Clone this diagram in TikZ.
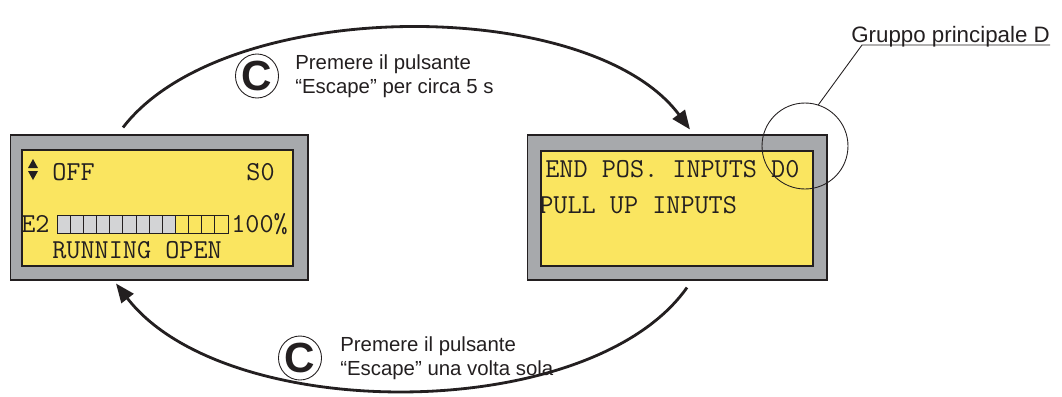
\documentclass[tikz,border=0pt]{standalone}
\usepackage{fontspec}
\setmainfont{Liberation Sans}
\usetikzlibrary{arrows.meta, positioning, calc, shapes.geometric}
\definecolor{LcdGray}{RGB}{167,169,172}
\definecolor{LcdYellow}{RGB}{250,229,96}
\definecolor{BarGray}{RGB}{211,212,214}
\definecolor{InkDark}{RGB}{35,31,32}

\begin{document}
\begin{tikzpicture}[
    x=0.02cm, y=-0.02cm,
    lcdframe/.style={draw=InkDark, line width=0.6pt, fill=LcdGray,
        minimum width=5.96cm, minimum height=2.9cm, inner sep=0pt},
    lcdscreen/.style={draw=InkDark, line width=0.9pt, fill=LcdYellow,
        inner sep=0pt},
    lcdtext/.style={font=\ttfamily\fontsize{15.6}{18}\selectfont,
        text=InkDark, inner sep=0pt, anchor=base west},
    note/.style={font=\fontsize{11.6}{13.6}\selectfont, text=InkDark,
        align=left, inner sep=0pt},
    keybtn/.style={draw=InkDark, line width=0.5pt, ellipse,
        minimum width=0.78cm, minimum height=0.88cm, inner sep=0pt,
        font=\bfseries\fontsize{24}{24}\selectfont, text=InkDark},
    flow/.style={-{Triangle[length=3.8mm, width=3mm]}, line width=1.6pt, InkDark},
    cell/.style={draw=InkDark, line width=0.4pt},
]
\useasboundingbox (0,0) rectangle (1062,396);

% display sinistro
\node[lcdframe] (lcdL) at (159,207.5) {};
\node[lcdscreen, minimum width=5.42cm, minimum height=2.32cm] (scrL) at (157.5,208) {};
\fill[InkDark] (28,168) -- (38,168) -- (33,159) -- cycle;
\fill[InkDark] (28,171) -- (38,171) -- (33,180) -- cycle;
\node[lcdtext] (offT) at (52,180) {OFF};
\node[lcdtext, anchor=base east] (s0T) at (275,180) {S0};
\node[lcdtext] (e2T) at (21,232) {E2};
\foreach \i in {0,...,8}
    \draw[cell, fill=BarGray] ({57+13.15*\i},215) rectangle ++(13.15,18);
\foreach \i in {9,...,12}
    \draw[cell] ({57+13.15*\i},215) rectangle ++(13.15,18);
\node[lcdtext] (pctT) at (231,232) {100\%};
\node[lcdtext] (runT) at (52,258) {RUNNING OPEN};

% display destro
\node[lcdframe, minimum width=6cm] (lcdR) at (677,207.5) {};
\node[lcdscreen, minimum width=5.44cm, minimum height=2.3cm] (scrR) at (677,208.5) {};
\node[lcdtext] (endT) at (545,177) {END POS. INPUTS D0};
\node[lcdtext] (pullT) at (539,213) {PULL UP INPUTS};

% gruppo principale
\node[draw=InkDark, line width=0.5pt, circle, minimum size=1.72cm, inner sep=0pt] (grpD) at (805,146) {};
\node[font=\fontsize{12.7}{15}\selectfont, text=InkDark, inner sep=0pt,
      anchor=base west] (grpT) at (851,42) {Gruppo principale D};
\draw[line width=0.5pt, InkDark] (grpD.72) -- ([shift={(11,3)}]grpT.base west)
    -- ([shift={(0,3)}]grpT.base east);

% tasto C
\node[keybtn] (keyTop) at (257,76) {C};
\node[note, right=0.32cm of keyTop] (txtTop) {Premere il pulsante\\“Escape” per circa 5 s};
\node[keybtn] (keyBot) at (300,358) {C};
\node[note, right=0.36cm of keyBot] (txtBot) {Premere il pulsante\\“Escape” una volta sola};

% frecce
\draw[flow] ([shift={(-36,-7)}]lcdL.north) .. controls (225,-5) and (590,-5)
    .. ([shift={(13,-5)}]lcdR.north);
\draw[flow] ([shift={(10,7)}]lcdR.south) .. controls (590,425) and (225,425)
    .. ([shift={(-43,3)}]lcdL.south);

\end{tikzpicture}
\end{document}
